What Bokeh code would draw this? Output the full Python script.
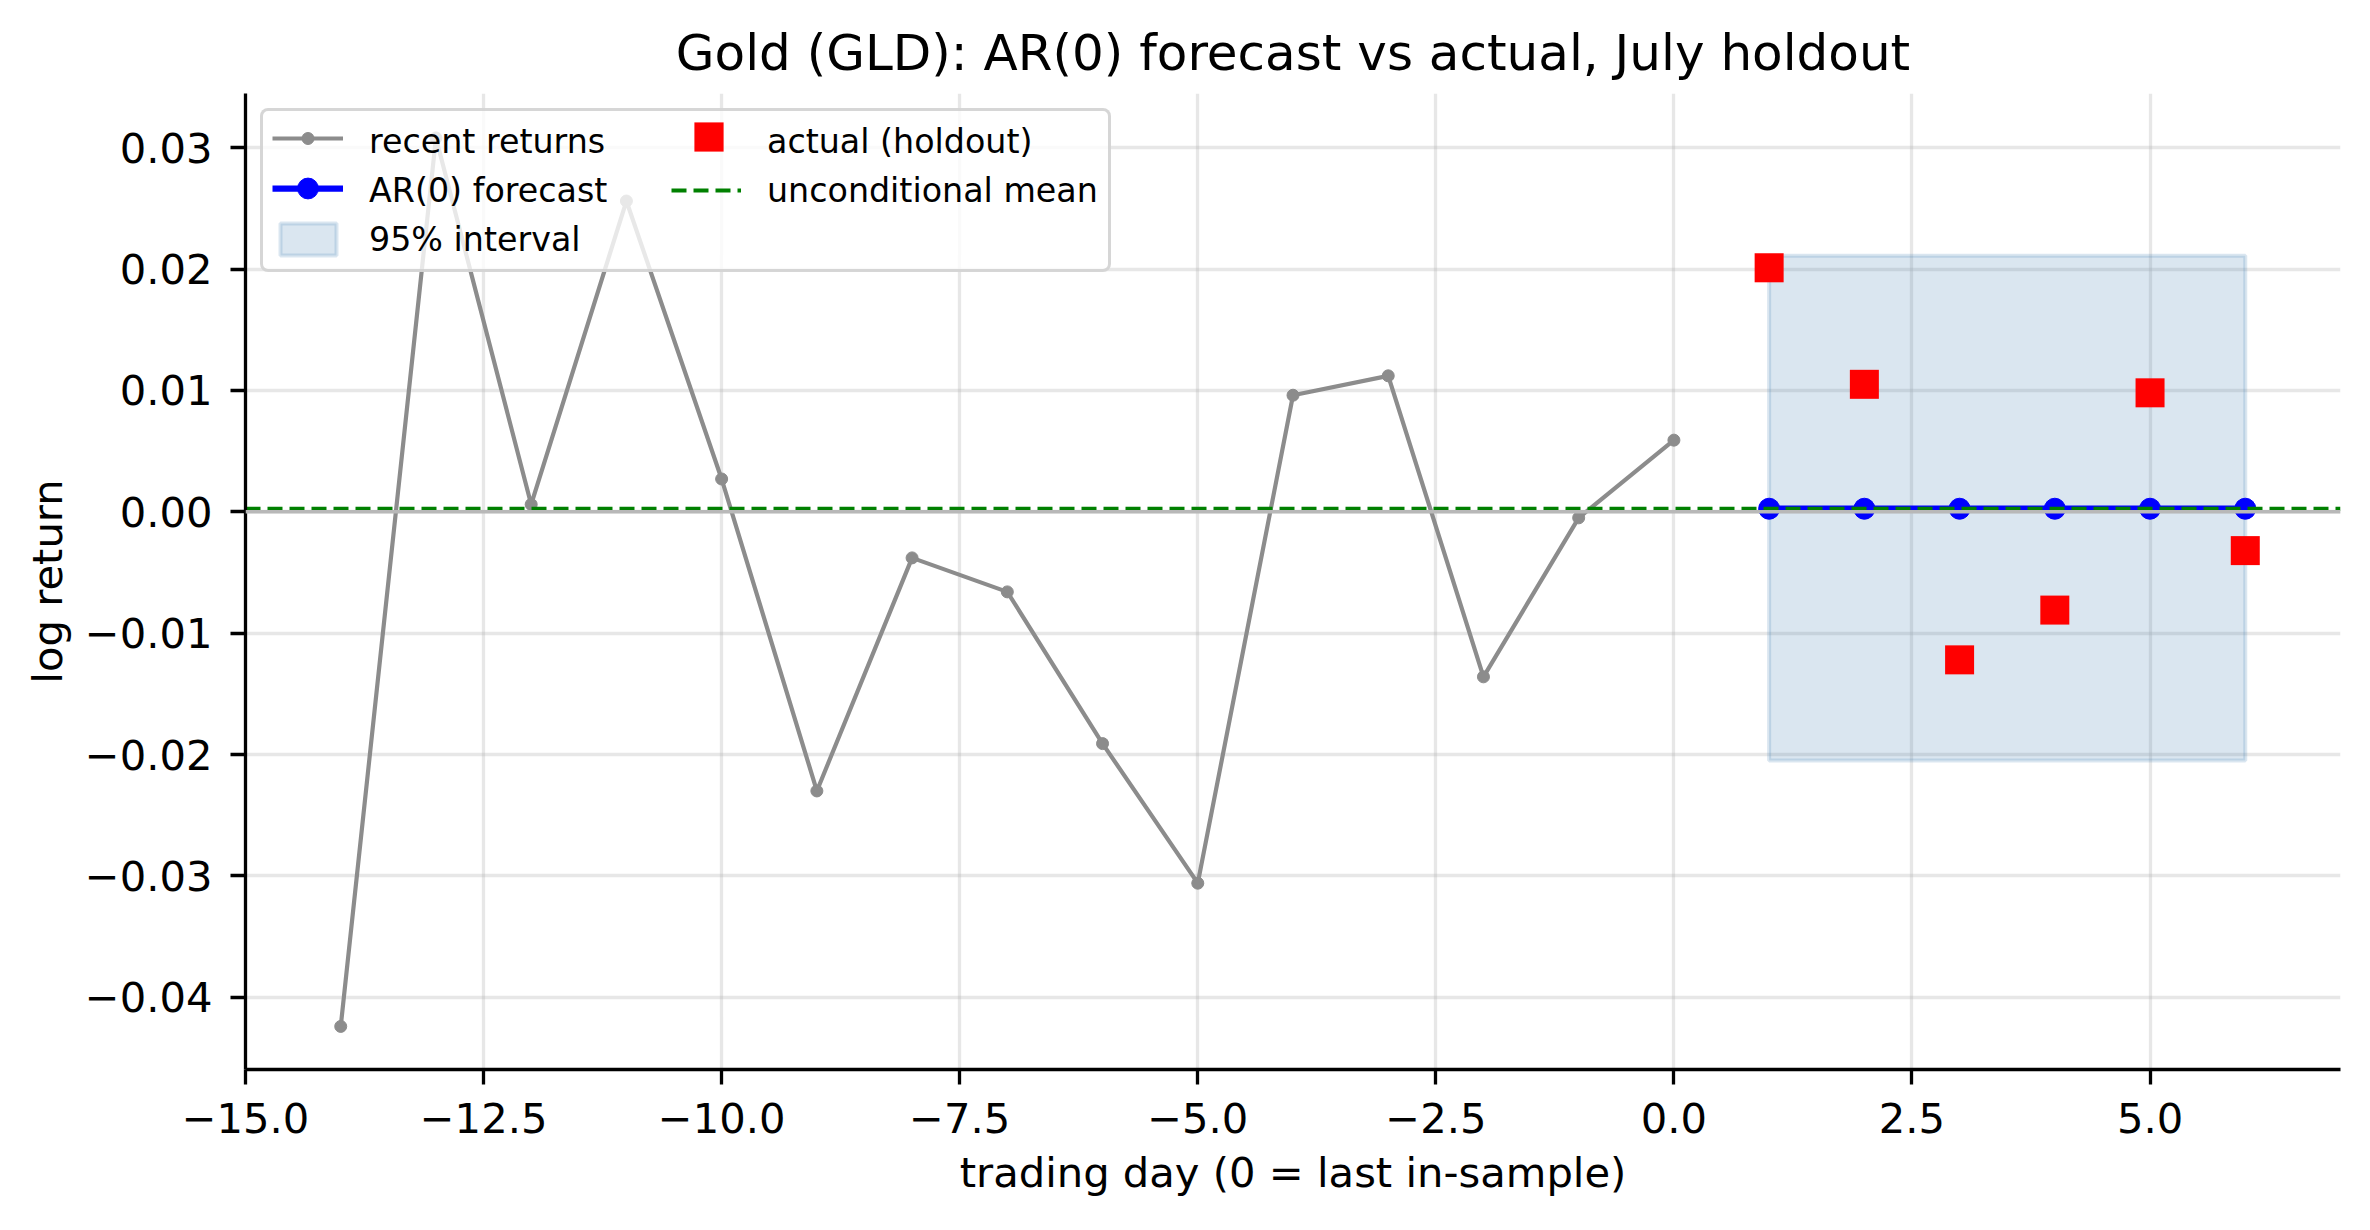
from bokeh.plotting import figure
from bokeh.models import Range1d, FixedTicker, Legend, LegendItem, Span, ColumnDataSource
from bokeh.embed import file_html
from bokeh.resources import INLINE

# ---- data ----
recent_days = [-14, -13, -12, -11, -10, -9, -8, -7, -6, -5, -4, -3, -2, -1, 0]
recent_returns = [-0.0424, 0.0308, 0.0006, 0.0256, 0.0027, -0.0230, -0.0038, -0.0066,
                  -0.0191, -0.0306, 0.0096, 0.0112, -0.0136, -0.0005, 0.0059]
holdout_days = [1, 2, 3, 4, 5, 6]
forecast = [0.00025, 0.00025, 0.00025, 0.00025, 0.00025, 0.00025]
lower_95 = [-0.0205, -0.0205, -0.0205, -0.0205, -0.0205, -0.0205]
upper_95 = [0.0211, 0.0211, 0.0211, 0.0211, 0.0211, 0.0211]
actual = [0.0201, 0.0105, -0.0122, -0.0081, 0.0098, -0.0032]
uncond_mean = 0.00025
zero_level = 0.0

x_lim = [-15.0, 7.0]
y_lim = [-0.04595, 0.03446]
x_ticks = [-15.0, -12.5, -10.0, -7.5, -5.0, -2.5, 0.0, 2.5, 5.0]
x_tick_labels = ["\u221215.0", "\u221212.5", "\u221210.0", "\u22127.5", "\u22125.0",
                 "\u22122.5", "0.0", "2.5", "5.0"]
y_ticks = [-0.04, -0.03, -0.02, -0.01, 0.0, 0.01, 0.02, 0.03]
y_tick_labels = ["\u22120.04", "\u22120.03", "\u22120.02", "\u22120.01", "0.00", "0.01", "0.02", "0.03"]

title = "Gold (GLD): AR(0) forecast vs actual, July holdout"
x_label = "trading day (0 = last in-sample)"
y_label = "log return"

FONT = "DejaVu Sans"

FRAME_L, FRAME_R, FRAME_T, FRAME_B = 245, 2340, 93, 1069
W, H = 2354, 1214

p = figure(width=W, height=H, output_backend="svg", toolbar_location=None,
           x_range=Range1d(*x_lim), y_range=Range1d(*y_lim),
           min_border_left=FRAME_L, min_border_right=W - FRAME_R,
           min_border_top=FRAME_T, min_border_bottom=H - FRAME_B)
p.outline_line_color = None
p.background_fill_color = "white"
p.border_fill_color = "white"

# title
p.title.text = title
p.title.align = "center"
p.title.text_font = FONT
p.title.text_font_size = "50px"
p.title.text_font_style = "normal"
p.title.text_color = "black"
p.title.standoff = 23

# axes
for ax in (p.xaxis[0], p.yaxis[0]):
    ax.axis_line_color = "black"
    ax.axis_line_width = 3.3
    ax.major_tick_line_color = "black"
    ax.major_tick_line_width = 3.3
    ax.major_tick_out = 15
    ax.major_tick_in = 0
    ax.minor_tick_line_color = None
    ax.major_label_text_font = FONT
    ax.major_label_text_font_size = "41.7px"
    ax.major_label_text_color = "black"
    ax.axis_label_text_font = FONT
    ax.axis_label_text_font_size = "41.7px"
    ax.axis_label_text_font_style = "normal"
    ax.axis_label_text_color = "black"

p.xaxis.ticker = FixedTicker(ticks=x_ticks)
p.yaxis.ticker = FixedTicker(ticks=y_ticks)
p.xaxis.major_label_overrides = dict(zip(x_ticks, x_tick_labels))
p.yaxis.major_label_overrides = dict(zip(y_ticks, y_tick_labels))
p.xaxis.axis_label = x_label
p.yaxis.axis_label = y_label
p.xaxis.major_label_standoff = 18
p.yaxis.major_label_standoff = 18
p.xaxis.axis_label_standoff = 12
p.yaxis.axis_label_standoff = 10

# grid
for g in (p.xgrid[0], p.ygrid[0]):
    g.grid_line_color = "#b0b0b0"
    g.grid_line_alpha = 0.3
    g.grid_line_width = 3.3

# 95% interval (patch built from the interval arrays)
band_x = holdout_days + holdout_days[::-1]
band_y = upper_95 + lower_95[::-1]
r_band = p.patch(band_x, band_y, fill_color="steelblue", fill_alpha=0.2,
                 line_color="steelblue", line_alpha=0.2, line_width=4)

# zero line
p.add_layout(Span(location=zero_level, dimension="width", line_color="#b8b8b8", line_width=3.3))

# recent returns
src_recent = ColumnDataSource(dict(x=recent_days, y=recent_returns))
r_rec_l = p.line("x", "y", source=src_recent, line_color="#8c8c8c", line_width=4.2)
r_rec_m = p.scatter("x", "y", source=src_recent, marker="circle", size=12,
                    fill_color="#8c8c8c", line_color="#8c8c8c")

# forecast
src_fc = ColumnDataSource(dict(x=holdout_days, y=forecast))
r_fc_l = p.line("x", "y", source=src_fc, line_color="#0000ff", line_width=6.25)
r_fc_m = p.scatter("x", "y", source=src_fc, marker="circle", size=21,
                   fill_color="#0000ff", line_color="#0000ff")

# unconditional mean: horizontal dashed line across the whole axis
r_mean = p.line(x_lim, [uncond_mean, uncond_mean], line_color="#008000",
                line_width=4.2, line_dash="15 7")

# actual
src_act = ColumnDataSource(dict(x=holdout_days, y=actual))
r_act = p.scatter("x", "y", source=src_act, marker="square", size=29,
                  fill_color="#ff0000", line_color="#ff0000", line_width=0)

# empty proxies: the main legend holds the labels, overlay legends draw the glyphs at true size
r_proxy = p.line([], [], line_alpha=0)

legend = Legend(items=[
    LegendItem(label="recent returns", renderers=[r_proxy]),
    LegendItem(label="AR(0) forecast", renderers=[r_proxy]),
    LegendItem(label="95% interval", renderers=[r_band]),
    LegendItem(label="actual (holdout)", renderers=[r_proxy]),
    LegendItem(label="unconditional mean", renderers=[r_mean]),
], location="top_left", ncols=2)
legend.margin = 15
legend.padding = 10
legend.spacing = 9
legend.glyph_width = 70
legend.glyph_height = 40
legend.label_height = 40
legend.label_width = 293
legend.label_standoff = 26
legend.label_text_font = FONT
legend.label_text_font_size = "33.3px"
legend.label_text_color = "black"
legend.background_fill_color = "white"
legend.background_fill_alpha = 0.8
legend.border_line_color = "#cccccc"
legend.border_line_width = 3
legend.border_line_alpha = 0.8
if "border_radius" in Legend.properties():
    legend.border_radius = 8
p.add_layout(legend)


def glyph_overlay(renderers, cx, cy, gw, gh):
    """A frameless legend whose only job is to draw a legend glyph centred on (cx, cy)."""
    lg = Legend(items=[LegendItem(label=" ", renderers=renderers)],
                location=(cx - gw / 2 - FRAME_L, FRAME_B - (cy + gh / 2)))
    lg.margin = 0
    lg.padding = 0
    lg.spacing = 0
    lg.glyph_width = gw
    lg.glyph_height = gh
    lg.label_height = gh
    lg.label_standoff = 0
    lg.label_text_font_size = "1px"
    lg.background_fill_alpha = 0
    lg.border_line_color = None
    lg.inactive_fill_alpha = 0
    p.add_layout(lg)


glyph_overlay([r_rec_l, r_rec_m], 307, 138, 71, 30)
glyph_overlay([r_fc_l, r_fc_m], 307, 188, 71, 52)
glyph_overlay([r_act], 708, 136, 73, 73)

open("out.html", "w").write(file_html(p, INLINE))
